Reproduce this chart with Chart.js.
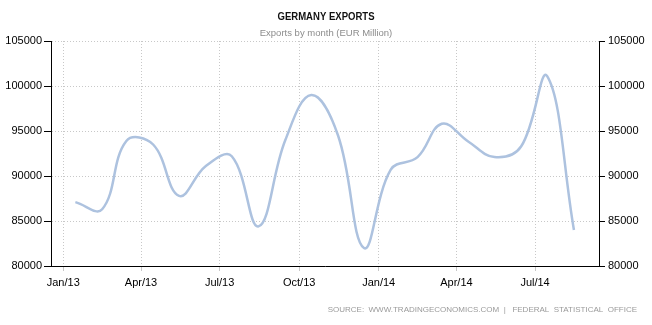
<!DOCTYPE html>
<html>
<head>
<meta charset="utf-8">
<script src="https://cdn.jsdelivr.net/npm/chart.js@4.4.1/dist/chart.umd.min.js"></script>
<style>
  html, body { margin: 0; padding: 0; background: #fff; }
  #wrap { width: 652px; height: 325px; }
</style>
</head>
<body>
<div id="wrap"><canvas id="exportsChart" width="652" height="325"></canvas></div>
<script>
// Germany exports, EUR million, one value per month
const months = [
  '2013-01', '2013-02', '2013-03', '2013-04', '2013-05', '2013-06', '2013-07',
  '2013-08', '2013-09', '2013-10', '2013-11', '2013-12', '2014-01', '2014-02',
  '2014-03', '2014-04', '2014-05', '2014-06', '2014-07', '2014-08'
];
const exportValues = [
  87100, 86300, 93900, 93500, 87800, 91100, 92200,
  84400, 94000, 99000, 94500, 82000, 90700, 92100,
  95800, 93800, 92100, 93300, 101100, 84000
];
const tickMonths = ['2013-01', '2013-04', '2013-07', '2013-10', '2014-01', '2014-04', '2014-07'];
const tickLabels = ['Jan/13', 'Apr/13', 'Jul/13', 'Oct/13', 'Jan/14', 'Apr/14', 'Jul/14'];

const titleText = 'GERMANY EXPORTS';
const subtitleText = 'Exports by month (EUR Million)';
const sourceText = 'SOURCE:  WWW.TRADINGECONOMICS.COM  |   FEDERAL  STATISTICAL  OFFICE';

// x is measured in days from 1 Jan 2013
const DAY = 86400000;
const origin = Date.UTC(2013, 0, 1);
function dayOf(ym, d) {
    const [y, m] = ym.split('-').map(Number);
    return (Date.UTC(y, m - 1, d) - origin) / DAY;
}

const points = months.map((m, i) => ({ x: dayOf(m, 15), y: exportValues[i] }));
const tickDays = tickMonths.map(m => dayOf(m, 1));

const FONT = "'Liberation Sans', Arial, sans-serif";

// headings and source line
const textPlugin = {
    id: 'headings',
    afterDraw(chart) {
        const c = chart.ctx;
        const mid = chart.width / 2;
        c.save();
        c.textAlign = 'center';
        c.textBaseline = 'middle';
        c.fillStyle = '#111';
        c.font = 'bold 11.5px ' + FONT;
        c.fillText(titleText, mid, 17, 97);   // squeezed to a narrow title
        c.fillStyle = '#8c8c8c';
        c.font = '9.5px ' + FONT;
        c.fillText(subtitleText, mid, 33);
        c.textAlign = 'right';
        c.fillStyle = '#9a9a9a';
        c.font = '8px ' + FONT;
        c.fillText(sourceText, 637, 310);
        c.restore();
    }
};

const ctx = document.getElementById('exportsChart').getContext('2d');

new Chart(ctx, {
    type: 'line',
    data: {
        datasets: [{
            label: 'Exports',
            data: points,
            borderColor: '#adc2df',
            borderWidth: 2.5,
            pointRadius: 0,
            fill: false,
            tension: 0.4
        }]
    },
    options: {
        responsive: false,
        animation: false,
        devicePixelRatio: 1,
        layout: { padding: { top: 41, left: 0, right: 0, bottom: 0 } },
        plugins: {
            legend: { display: false },
            tooltip: { enabled: false }
        },
        scales: {
            x: {
                type: 'linear',
                min: -14.2,
                max: 620,
                afterBuildTicks: s => { s.ticks = tickDays.map(v => ({ value: v })); },
                afterFit: s => { s.height = 59; },
                grid: { color: '#c8c8c8', tickColor: '#c8c8c8', tickLength: 5, tickBorderDash: [] },
                border: { display: true, color: '#000', width: 1, dash: [1, 2] },
                ticks: {
                    autoSkip: false,
                    maxRotation: 0,
                    padding: 5,
                    color: '#000',
                    font: { family: FONT, size: 11 },
                    callback: v => tickLabels[tickDays.indexOf(v)]
                }
            },
            y: {
                position: 'left',
                min: 80000,
                max: 105000,
                afterFit: s => { s.width = 51; },
                grid: { color: '#c8c8c8', tickColor: '#000', tickLength: 7, tickBorderDash: [] },
                border: { display: true, color: '#000', width: 1, dash: [1, 2] },
                ticks: {
                    stepSize: 5000,
                    padding: 2,
                    color: '#000',
                    font: { family: FONT, size: 11 },
                    callback: v => String(v)
                }
            },
            y2: {
                position: 'right',
                min: 80000,
                max: 105000,
                afterFit: s => { s.width = 53; },
                grid: { drawOnChartArea: false, tickColor: '#000', tickLength: 6 },
                border: { display: true, color: '#000', width: 1 },
                ticks: {
                    stepSize: 5000,
                    padding: 3,
                    color: '#000',
                    font: { family: FONT, size: 11 },
                    callback: v => String(v)
                }
            }
        }
    },
    plugins: [textPlugin]
});
</script>
</body>
</html>
